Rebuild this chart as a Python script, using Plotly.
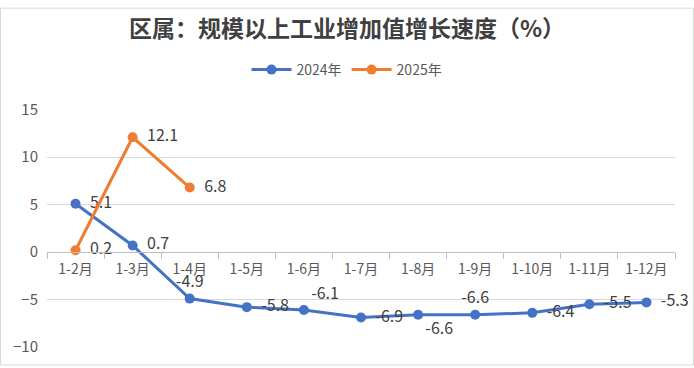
import plotly.graph_objects as go

categories = ["1-2月", "1-3月", "1-4月", "1-5月", "1-6月", "1-7月", "1-8月", "1-9月", "1-10月", "1-11月", "1-12月"]
values_2024 = [5.1, 0.7, -4.9, -5.8, -6.1, -6.9, -6.6, -6.6, -6.4, -5.5, -5.3]
values_2025 = [0.2, 12.1, 6.8]
pos_2024 = ["middle right", "middle right", "top center", "middle right", "top right", "middle right",
            "bottom right", "top center", "middle right", "middle right", "middle right"]
pos_2025 = ["middle right", "middle right", "middle right"]


def label(v, p):
    s = f"{v:g}"
    return "  " + s if p == "middle right" else s


BLUE = "#4472C4"
ORANGE = "#ED7D31"
FONT = "Noto Sans CJK SC"

fig = go.Figure()
fig.add_trace(go.Scatter(
    x=categories, y=values_2024, name="2024年", mode="lines+markers+text",
    line=dict(color=BLUE, width=3), marker=dict(size=10, color=BLUE),
    text=[label(v, p) for v, p in zip(values_2024, pos_2024)], textposition=pos_2024,
    textfont=dict(size=16, color="#404040", family=FONT), cliponaxis=False))
fig.add_trace(go.Scatter(
    x=categories[:len(values_2025)], y=values_2025, name="2025年", mode="lines+markers+text",
    line=dict(color=ORANGE, width=3), marker=dict(size=10, color=ORANGE),
    text=[label(v, p) for v, p in zip(values_2025, pos_2025)], textposition=pos_2025,
    textfont=dict(size=16, color="#404040", family=FONT), cliponaxis=False))

L, R, T, B = 47, 19, 105, 19
W, H = 694, 368
pw, ph = W - L - R, H - T - B

fig.update_layout(
    width=W, height=H,
    margin=dict(l=L, r=R, t=T, b=B),
    paper_bgcolor="white", plot_bgcolor="white",
    font=dict(family=FONT, color="#595959", size=14),
    title=dict(text="区属：规模以上工业增加值增长速度（%）", x=0.5, xref="container", xanchor="center",
               y=1 - 29 / H, yref="container", yanchor="middle",
               font=dict(size=23, color="#404040", family=FONT, weight="bold")),
    legend=dict(orientation="h", xref="container", x=0.5, xanchor="center",
                yref="container", y=1 - 70 / H, yanchor="middle",
                font=dict(size=14, color="#595959"), itemwidth=40),
    xaxis=dict(type="category", categoryorder="array", categoryarray=categories,
               anchor="free", position=0.4, showgrid=False, showline=True,
               linecolor="#BFBFBF", linewidth=1, ticks="outside", tickson="boundaries",
               ticklen=6, tickcolor="#BFBFBF", zeroline=False, ticklabelstandoff=4,
               tickfont=dict(size=14, color="#595959"), range=[-0.5, 10.5]),
    yaxis=dict(range=[-10, 15], tickvals=[-10, -5, 0, 5, 10, 15], showgrid=True,
               gridcolor="#D9D9D9", gridwidth=1, zeroline=False, showline=False,
               tickfont=dict(size=15, color="#595959"), ticklabelstandoff=8),
    shapes=[dict(type="rect", xref="paper", yref="paper",
                 x0=-L / pw + 0.5 / pw, x1=1 + R / pw - 0.5 / pw,
                 y0=-B / ph + 0.5 / ph, y1=1 + T / ph - 0.5 / ph,
                 line=dict(color="#D9D9D9", width=1), layer="below")],
)

fig.write_html("out.html", config={"displayModeBar": False},
               post_script="document.body.style.margin='0';document.body.style.padding='0';")
